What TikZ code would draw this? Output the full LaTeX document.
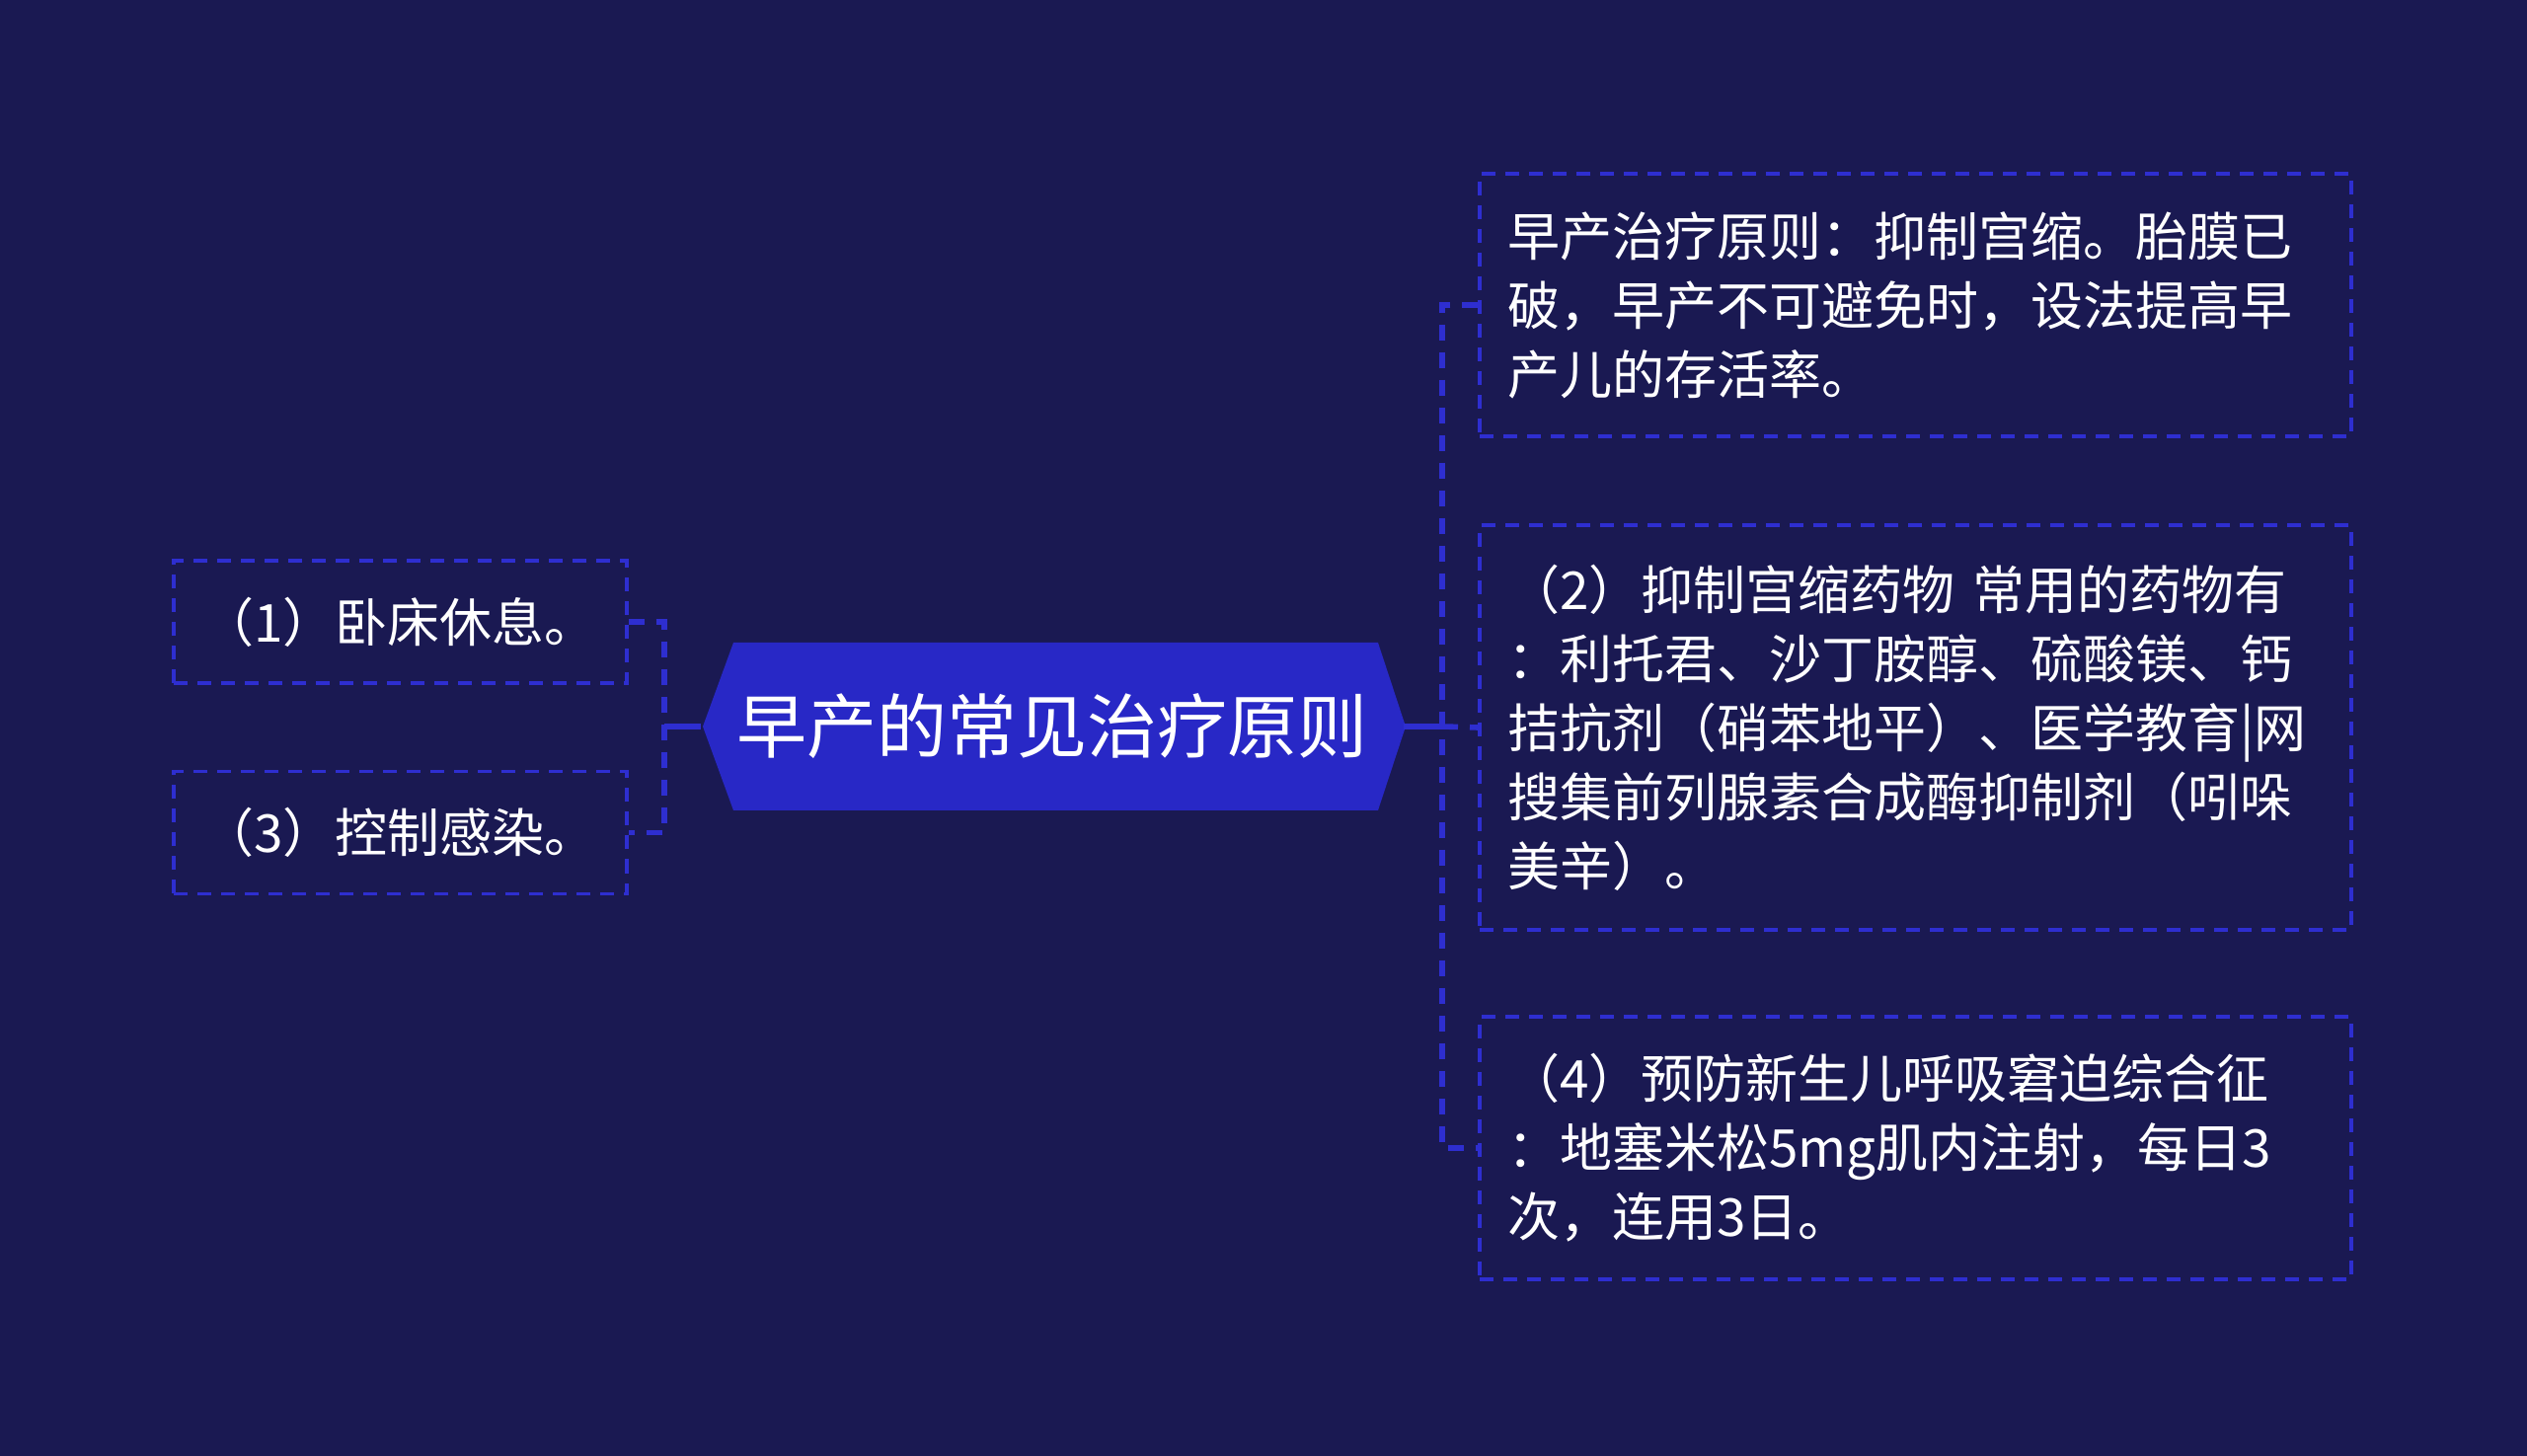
\documentclass[tikz,border=0pt]{standalone}
\usepackage{fontspec}
\newfontfamily\cjk{Noto Sans CJK SC}
\definecolor{bg}{RGB}{26,25,82}
\definecolor{accent}{RGB}{46,46,208}
\definecolor{hexfill}{RGB}{40,40,198}
\begin{document}
\begin{tikzpicture}[x=0.5pt,y=-0.5pt,
  leaf/.style={draw=accent, line width=1.7pt, dash pattern=on 7pt off 5pt, text=white,
    font=\cjk\fontsize{26.5pt}{35pt}\selectfont, align=left, inner xsep=14pt, inner ysep=0pt, anchor=center},
  link/.style={draw=accent, line width=2.8pt, dash pattern=on 8pt off 6pt},
  trunk/.style={draw=accent, line width=3pt}]
\fill[bg] (0,0) rectangle (2560,1475);
\useasboundingbox (0,0) rectangle (2560,1475);

% central hexagon
\fill[hexfill] (712,736) -- (743,651) -- (1396,651) -- (1424,736) -- (1396,821) -- (743,821) -- cycle;
\node[font=\cjk\fontsize{35.5pt}{42pt}\selectfont, text=white, minimum width=356pt, minimum height=85pt, inner sep=0pt] (root) at (1066,736) {早产的常见治疗原则};

% left leaves
\node[leaf, text width=201.5pt, minimum width=229.5pt, minimum height=62pt] (l1) at (405.5,630) {（1）卧床休息。};
\node[leaf, text width=201.5pt, minimum width=229.5pt, minimum height=62pt] (l3) at (405.5,843.5) {（3）控制感染。};

% right leaves
\node[leaf, text width=413.5pt, minimum width=441.5pt, minimum height=133pt] (r1) at (1940.5,309)
  {早产治疗原则：抑制宫缩。胎膜已\\破，早产不可避免时，设法提高早\\产儿的存活率。};
\node[leaf, text width=413.5pt, minimum width=441.5pt, minimum height=205pt] (r2) at (1940.5,737)
  {（2）抑制宫缩药物 常用的药物有\\：利托君、沙丁胺醇、硫酸镁、钙\\拮抗剂（硝苯地平）、医学教育|网\\搜集前列腺素合成酶抑制剂（吲哚\\美辛）。};
\node[leaf, text width=413.5pt, minimum width=441.5pt, minimum height=133pt] (r3) at (1940.5,1163)
  {（4）预防新生儿呼吸窘迫综合征\\：地塞米松5mg肌内注射，每日3\\次，连用3日。};

% connectors
\coordinate (lj) at (673,736);
\coordinate (rj) at (1461,736);
\draw[trunk] (root.west) -- (lj);
\draw[trunk] (root.east) -- (rj);
\draw[link] (l1.east) -| (lj) |- (l3.east);
\draw[link] (r1.west) -| (rj) |- (r3.west);
\draw[link] (rj) -- (r2.west);
\end{tikzpicture}
\end{document}
